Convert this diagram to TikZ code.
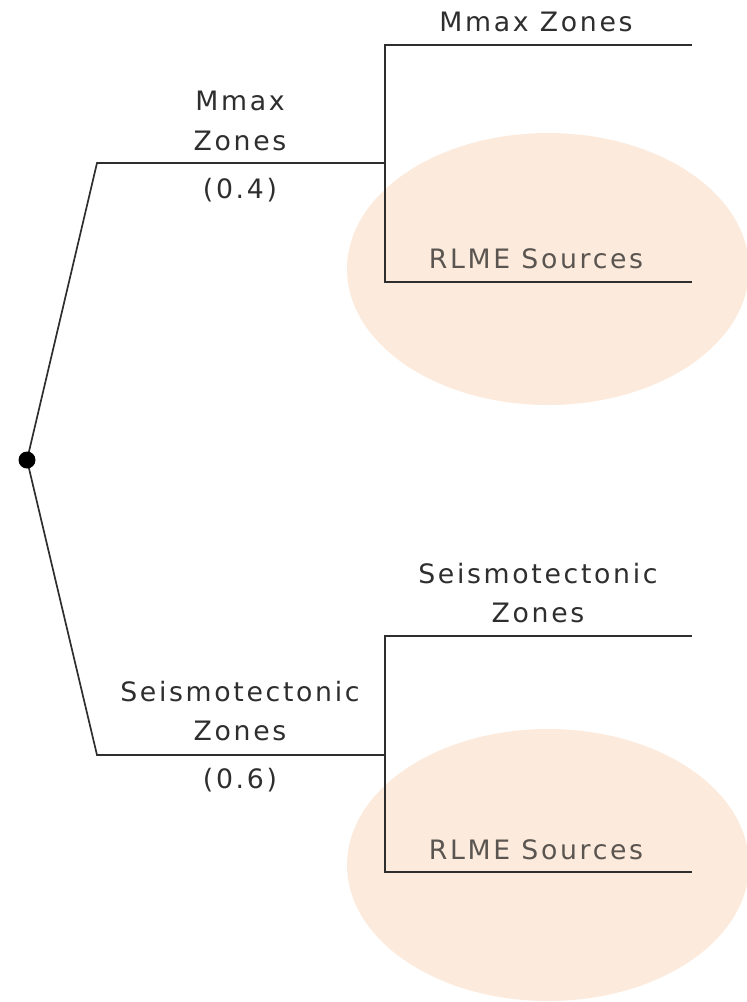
\documentclass[tikz,border=0pt]{standalone}
\usepackage{fontspec}
\setmainfont[LetterSpace=10]{DejaVu Sans}
\usetikzlibrary{positioning}

\definecolor{peach}{HTML}{FCEBDD}
\definecolor{ink}{HTML}{2E2E2E}
\definecolor{faint}{HTML}{5A5550}

\begin{document}
\begin{tikzpicture}[
  x=0.025cm, y=-0.025cm,
  font=\fontsize{19}{28}\selectfont,
  branch/.style={draw=ink, line width=1.2pt},
  lbl/.style={text=ink, align=center, inner sep=0pt},
  rlme/.style={text=faint, inner sep=0pt},
  hilite/.style={fill=peach, draw=none}
]
\useasboundingbox (0,0) rectangle (746,1002);

% Highlighted RLME alternatives.
\fill[hilite] (548,269) ellipse [x radius=201, y radius=136];
\fill[hilite] (548,865) ellipse [x radius=201, y radius=136];

% Tree points.
\coordinate (root) at (27,460);
\coordinate (upA) at (97,163);
\coordinate (upB) at (385,163);
\coordinate (loA) at (97,755);
\coordinate (loB) at (385,755);
\coordinate (upT) at (385,45);
\coordinate (upTe) at (692,45);
\coordinate (upR) at (385,282);
\coordinate (upRe) at (692,282);
\coordinate (loT) at (385,636);
\coordinate (loTe) at (692,636);
\coordinate (loR) at (385,872);
\coordinate (loRe) at (692,872);

% First level: zonation approach.
\draw[branch] (root) -- (upA) -- (upB);
\draw[branch] (root) -- (loA) -- (loB);

% Second level: with or without RLME sources.
\draw[branch] (upTe) -- (upT) -- (upR) -- (upRe);
\draw[branch] (loTe) -- (loT) -- (loR) -- (loRe);

\fill[black] (root) circle (8.5);

% Labels.
\node[lbl] (mmax) at (240,121) {Mmax\\Zones};
\node[lbl] (mmaxw) at (240,190) {(0.4)};
\node[lbl] (seis) at (240,711) {Seismotectonic\\Zones};
\node[lbl] (seisw) at (240,780) {(0.6)};
\node[lbl] (mmaxz) at (536,22) {Mmax Zones};
\node[lbl] (seisz) at (538,593) {Seismotectonic\\Zones};
\node[rlme] (rlmeup) at (536,259) {RLME Sources};
\node[rlme] (rlmelo) at (536,850) {RLME Sources};

\end{tikzpicture}
\end{document}
